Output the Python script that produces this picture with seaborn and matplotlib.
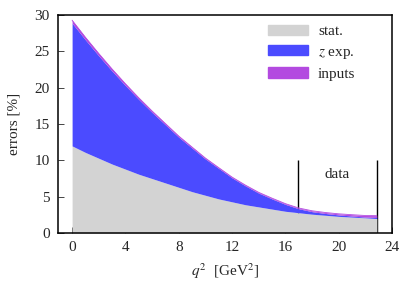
import matplotlib
matplotlib.use("Agg")
import matplotlib.pyplot as plt
from matplotlib.patches import Patch
import seaborn as sns
import numpy as np

sns.set_style("ticks")
plt.rcParams['font.family'] = ['Liberation Serif', 'DejaVu Serif']
plt.rcParams['mathtext.fontset'] = 'stix'

# ---- data ----
q2 = [0, 1, 2, 3, 4, 5, 6, 7, 8, 9, 10, 11, 12, 13, 14, 15, 16, 17, 18, 19, 20, 21, 22, 22.85]
stat = [12.0, 11.1, 10.3, 9.5, 8.8, 8.1, 7.5, 6.9, 6.3, 5.7, 5.2, 4.7, 4.3, 3.9, 3.6, 3.3, 3.0, 2.8, 2.6, 2.45, 2.3, 2.2, 2.1, 2.0]
zexp_top = [28.9, 26.6, 24.4, 22.3, 20.3, 18.4, 16.6, 14.9, 13.2, 11.7, 10.2, 8.9, 7.6, 6.5, 5.5, 4.7, 3.95, 3.35, 2.95, 2.7, 2.5, 2.35, 2.2, 2.15]
inputs_top = [29.3, 26.95, 24.72, 22.58, 20.55, 18.62, 16.8, 15.07, 13.35, 11.83, 10.32, 9.0, 7.7, 6.6, 5.6, 4.8, 4.05, 3.45, 3.07, 2.83, 2.65, 2.53, 2.42, 2.4]
data_lines = [16.95, 22.85]

c_stat = '#d3d3d3'
c_zexp = '#4b4bff'
c_inp = '#b34ae0'

fig, ax = plt.subplots(figsize=(4.15, 2.91), dpi=100)
fig.subplots_adjust(left=0.140, right=0.945, bottom=0.199, top=0.948)

q = np.array(q2)
ax.fill_between(q, 0, stat, color=c_stat, lw=0, zorder=2)
ax.fill_between(q, stat, zexp_top, color=c_zexp, lw=0, zorder=2)
ax.fill_between(q, zexp_top, inputs_top, color=c_inp, lw=0, zorder=2)
sns.lineplot(x=q2, y=inputs_top, color=c_inp, lw=0.6, ax=ax, zorder=3)

for xl in data_lines:
    ax.vlines(xl, 0, 10, color='black', lw=1.0, zorder=1)
ax.text(19.9, 8.0, 'data', ha='center', va='center', fontsize=11)

ax.set_xlim(-1.05, 24)
ax.set_ylim(0, 30)
ax.set_xticks(range(0, 25, 4))
ax.set_yticks(range(0, 31, 5))
ax.tick_params(direction='in', length=4, width=0.6, labelsize=11, pad=6,
               top=False, right=False)
for s in ax.spines.values():
    s.set_linewidth(1.1)
    s.set_color('black')
    s.set_visible(True)

ax.set_xlabel(r'$q^2$  [GeV$^2$]', fontsize=11, labelpad=5)
ax.set_ylabel('errors [%]', fontsize=11, labelpad=10)

handles = [Patch(color=c_stat, label='stat.'),
           Patch(color=c_zexp, label=r'$z$ exp.'),
           Patch(color=c_inp, label='inputs')]
ax.legend(handles=handles, loc='upper left', frameon=False, fontsize=11,
          handlelength=2.6, handleheight=0.65, handletextpad=0.65,
          labelspacing=0.45, borderpad=0, borderaxespad=0,
          bbox_to_anchor=(0.629, 0.956))

fig.savefig('out.png', dpi=100)
